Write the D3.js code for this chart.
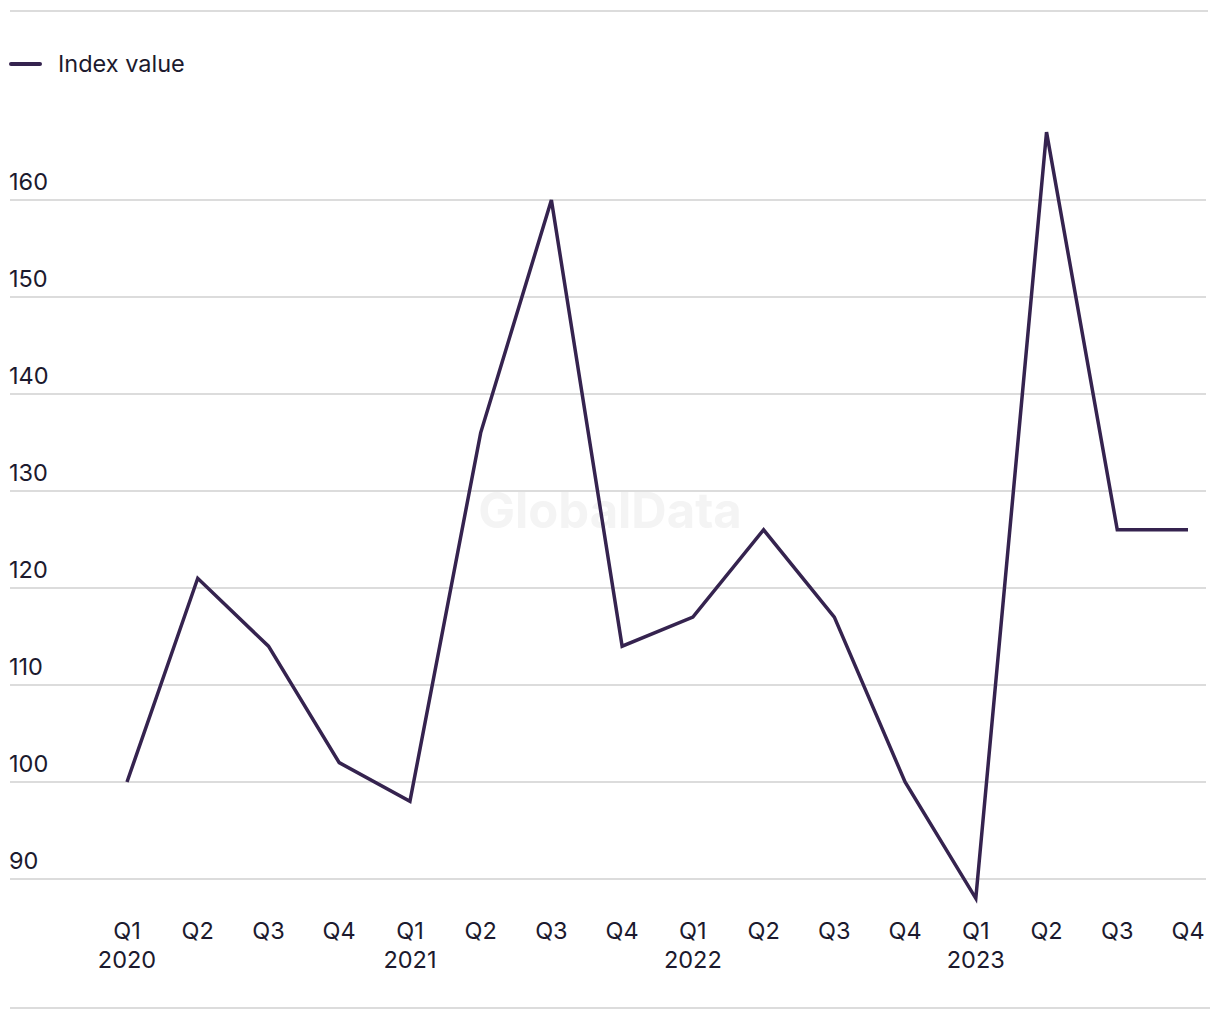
<!DOCTYPE html>
<html><head><meta charset="utf-8">
<script src="https://cdn.jsdelivr.net/npm/d3@7"></script>
<style>body{margin:0;background:#fff;} svg{display:block;}</style>
</head><body>
<svg id="chart" width="1220" height="1020"></svg>
<script>
const quarters = ["Q1","Q2","Q3","Q4","Q1","Q2","Q3","Q4","Q1","Q2","Q3","Q4","Q1","Q2","Q3","Q4"];
const years = ["2020","","","","2021","","","","2022","","","","2023","","",""];
const values = [100,121,114,102,98,136,160,114,117,126,117,100,88,167,126,126];
const yTicks = [90,100,110,120,130,140,150,160];
const seriesName = "Index value";

const W = 1220, H = 1020;
const font = "Inter, 'Liberation Sans', Arial, sans-serif";
const fs = 23.5;
const textColor = "#1c1a2e";
const lineColor = "#35234f";
const svg = d3.select("#chart");

const idx = d3.range(values.length);
const x = d3.scalePoint().domain(idx).range([127, 1188]);
const y = d3.scaleLinear().domain([90, 160]).range([879, 200]);

svg.append("line").attr("x1",10).attr("x2",1208).attr("y1",11).attr("y2",11).attr("stroke","#dcdcdc").attr("stroke-width",2);
svg.append("line").attr("x1",10).attr("x2",1210).attr("y1",1008).attr("y2",1008).attr("stroke","#dcdcdc").attr("stroke-width",2);

svg.append("text").attr("x",610).attr("y",528).attr("text-anchor","middle")
  .attr("font-family",font).attr("font-weight","bold").attr("font-size",49)
  .attr("fill","#f4f4f4").text("GlobalData");

const gy = svg.append("g");
yTicks.forEach(t => {
  gy.append("line").attr("x1",10).attr("x2",1206).attr("y1",y(t)).attr("y2",y(t))
    .attr("stroke","#dcdcdc").attr("stroke-width",2);
  gy.append("text").attr("x",9).attr("y",y(t)-10).attr("font-family",font).attr("font-size",fs)
    .attr("fill",textColor).text(d3.format("d")(t));
});

const gx = svg.append("g");
idx.forEach(i => {
  gx.append("text").attr("x",x(i)).attr("y",939).attr("text-anchor","middle")
    .attr("font-family",font).attr("font-size",fs).attr("fill",textColor).text(quarters[i]);
  if (years[i]) gx.append("text").attr("x",x(i)).attr("y",968).attr("text-anchor","middle")
    .attr("font-family",font).attr("font-size",fs).attr("fill",textColor).text(years[i]);
});

const line = d3.line().x((d,i)=>x(i)).y(d=>y(d));
svg.append("path").datum(values).attr("d",line).attr("fill","none")
  .attr("stroke",lineColor).attr("stroke-width",3.5).attr("stroke-linejoin","miter").attr("stroke-linecap","butt");

svg.append("line").attr("x1",11).attr("x2",40).attr("y1",64).attr("y2",64)
  .attr("stroke",lineColor).attr("stroke-width",4).attr("stroke-linecap","round");
svg.append("text").attr("x",58).attr("y",72).attr("font-family",font).attr("font-size",fs)
  .attr("fill",textColor).text(seriesName);
</script>
</body></html>
